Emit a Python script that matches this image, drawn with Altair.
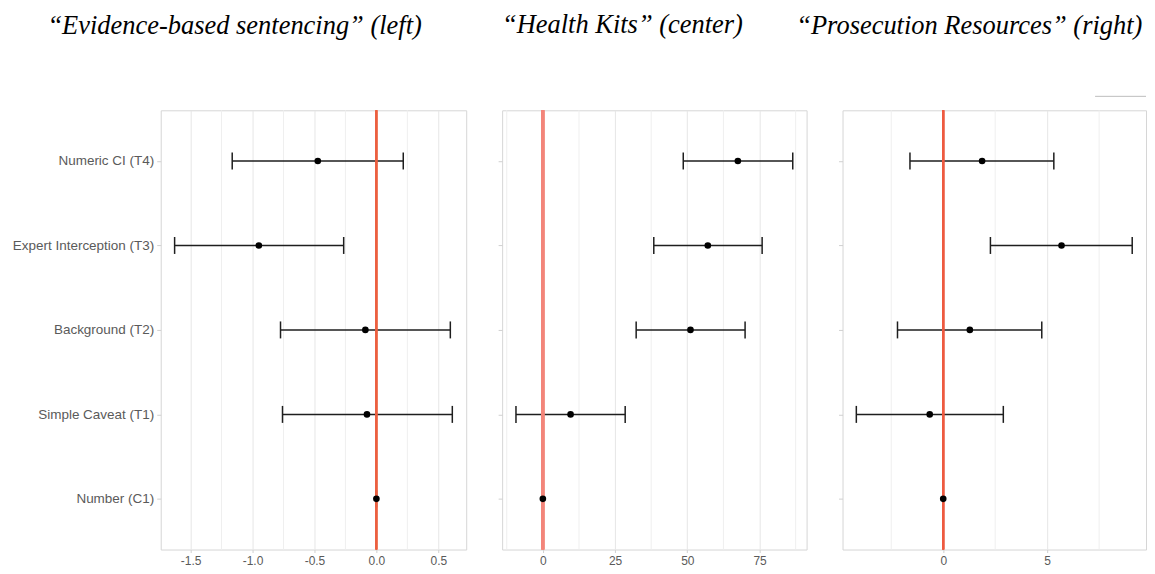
import altair as alt
import pandas as pd

categories = ["Numeric CI (T4)", "Expert Interception (T3)", "Background (T2)",
              "Simple Caveat (T1)", "Number (C1)"]

# Panel 1: "Evidence-based sentencing"
p1_est = [-0.473, -0.949, -0.089, -0.076, 0.0]
p1_lo = [-1.164, -1.629, -0.774, -0.758, 0.0]
p1_hi = [0.217, -0.264, 0.597, 0.613, 0.0]
p1_major = [-1.5, -1.0, -0.5, 0.0, 0.5]
p1_minor = [-1.25, -0.75, -0.25, 0.25]

# Panel 2: "Health Kits"
p2_est = [67.5, 57.1, 51.1, 9.6, 0.0]
p2_lo = [48.6, 38.4, 32.3, -9.3, 0.0]
p2_hi = [86.5, 75.9, 70.0, 28.5, 0.0]
p2_major = [0, 25, 50, 75]
p2_minor = [-12.5, 12.5, 37.5, 62.5, 87.5]

# Panel 3: "Prosecution Resources"
p3_est = [1.87, 5.69, 1.28, -0.65, 0.0]
p3_lo = [-1.60, 2.27, -2.20, -4.18, 0.0]
p3_hi = [5.32, 9.09, 4.74, 2.89, 0.0]
p3_major = [0, 5]
p3_minor = [-2.5, 2.5, 7.5]

titles = ["\u201cEvidence-based sentencing\u201d (left)",
          "\u201cHealth Kits\u201d (center)",
          "\u201cProsecution Resources\u201d (right)"]

AX_FONT = "Liberation Sans"
LABEL_COLOR = "#5a5a5a"
BAR_COLOR = "#1e1e1e"


def panel(est, lo, hi, majors, minors, fmt, width, title, dx, offset,
          show_labels, ref_color, ref_width, extra=None):
    df = pd.DataFrame({"cat": categories, "est": est, "lo": lo, "hi": hi})
    dmin = min(lo)
    dmax = max(hi)
    span = dmax - dmin
    domain = [dmin - 0.05 * span, dmax + 0.05 * span]

    xaxis = alt.Axis(
        title=None,
        values=majors,
        format=fmt,
        labelExpr="replace(datum.label, '\u2212', '-')",
        domain=False,
        tickSize=3,
        tickColor="#d0d0d0",
        gridColor="#e6e6e6",
        labelFont=AX_FONT,
        labelFontSize=12,
        labelColor=LABEL_COLOR,
        labelPadding=3,
        labelFlush=False,
        labelOverlap=False,
    )
    yaxis = alt.Axis(
        title=None,
        labels=show_labels,
        domain=False,
        tickSize=4,
        tickColor="#d0d0d0",
        gridColor="#e8e8e8",
        labelFont=AX_FONT,
        labelFontSize=13.5,
        labelColor=LABEL_COLOR,
        labelPadding=3,
        labelLimit=300,
    )
    xscale = alt.Scale(domain=domain, nice=False, zero=False)
    yscale = alt.Scale(type="point", padding=0.6)

    grid_minor = alt.Chart(pd.DataFrame({"v": minors})).mark_rule(
        color="#efefef", strokeWidth=1).encode(
        x=alt.X("v:Q", scale=xscale, axis=xaxis))

    base = alt.Chart(df)
    ycat = alt.Y("cat:N", sort=categories, scale=yscale, axis=yaxis)
    bars = base.mark_rule(color=BAR_COLOR, strokeWidth=1.5).encode(
        x="lo:Q", x2="hi:Q", y=ycat)
    cap_lo = base.mark_tick(color=BAR_COLOR, size=17, thickness=1.5, opacity=1).encode(
        x="lo:Q", y=ycat)
    cap_hi = base.mark_tick(color=BAR_COLOR, size=17, thickness=1.5, opacity=1).encode(
        x="hi:Q", y=ycat)
    ref = alt.Chart(df).mark_rule(color=ref_color, strokeWidth=ref_width).encode(
        x=alt.datum(0))
    pts = base.mark_circle(size=44, color="black", opacity=1).encode(
        x="est:Q", y=ycat)
    layers = [grid_minor, bars, cap_lo, cap_hi, ref, pts]
    if extra is not None:
        layers.append(extra)
    return alt.layer(*layers).properties(
        width=width, height=440,
        title=alt.TitleParams(
            text=title, font="Liberation Serif", fontStyle="italic",
            fontSize=26.5, fontWeight="normal", color="black",
            anchor="middle", dx=dx, offset=offset,
        ),
    )


corner = alt.Chart(pd.DataFrame({"k": [0]})).mark_rule(
    color="#bdbdbd", strokeWidth=1).encode(
    x=alt.value(253), x2=alt.value(304), y=alt.value(-14))

c1 = panel(p1_est, p1_lo, p1_hi, p1_major, p1_minor, ".1f", 306,
           titles[0], -79, 70, True, "#ec5f3f", 1.8)
c2 = panel(p2_est, p2_lo, p2_hi, p2_major, p2_minor, "d", 305,
           titles[1], -32, 70, False, "#f3857a", 3)
c3 = panel(p3_est, p3_lo, p3_hi, p3_major, p3_minor, "d", 304,
           titles[2], -25, 56, False, "#ee5a40", 2, extra=corner)

chart = alt.hconcat(c1, c2, c3, spacing=36, bounds="flush").properties(
    padding={"left": 3, "top": 3, "right": 0, "bottom": 0},
    background="white",
).configure_view(stroke="#d6d6d6", strokeWidth=1)

chart.save("out.html", embed_options={"renderer": "svg", "actions": False})
